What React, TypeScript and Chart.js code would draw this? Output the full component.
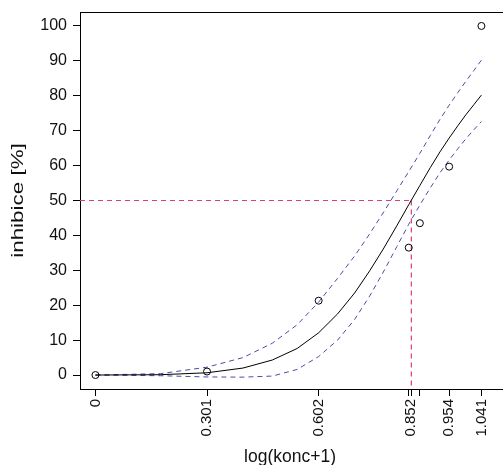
import React, { useEffect, useRef } from "react";
import { Chart, registerables } from "chart.js";

Chart.register(...registerables);

// Axis ticks (value positions + labels as printed)
const xTickValues = [0, 0.301, 0.602, 0.845, 0.852, 0.875, 0.954, 1.041];
const xTickLabels = ["0", "0.301", "0.602", "", "0.852", "", "0.954", "1.041"];
const yTickValues = [0, 10, 20, 30, 40, 50, 60, 70, 80, 90, 100];

// Observed points
const obsX = [0, 0.301, 0.602, 0.845, 0.875, 0.954, 1.041];
const obsY = [0, 1.0, 21.3, 36.5, 43.5, 59.7, 100];

// Fitted curve and confidence band
const curveX = [0, 0.176, 0.301, 0.398, 0.477, 0.544, 0.602, 0.653, 0.699, 0.74, 0.778, 0.813, 0.845, 0.875, 0.903, 0.929, 0.954, 0.978, 1.0, 1.021, 1.041];
const fitY = [0, 0.1, 0.65, 2.0, 4.3, 7.6, 12.1, 17.5, 23.5, 29.9, 36.4, 42.8, 48.8, 54.3, 59.4, 63.9, 67.9, 71.5, 74.7, 77.5, 80.2];
const upperY = [0, 0.4, 2.25, 5.0, 9.1, 14.4, 20.9, 27.7, 34.1, 40.5, 46.8, 52.8, 58.3, 63.5, 68.6, 73.2, 77.3, 81.0, 84.3, 87.3, 90.2];
const lowerY = [0, -0.2, -0.55, -0.6, -0.3, 1.6, 5.3, 10.0, 15.9, 22.7, 29.8, 36.8, 43.2, 48.7, 53.6, 57.9, 61.6, 64.9, 67.8, 70.3, 72.6];

// IC50 marker
const ic50X = 0.852;
const ic50Y = 50;

// Axis ranges
const xMin = -0.0416;
const xMax = 1.0992;
const yMin = -4;
const yMax = 104;

const xTitle = "log(konc+1)";
const yTitle = "inhibice [%]";

const FONT = "'Liberation Sans', Arial, sans-serif";

const pts = (xs: number[], ys: number[]) => xs.map((x, i) => ({ x, y: ys[i] }));

const framePlugin = {
  id: "frameTop",
  afterDraw(chart: any) {
    const { ctx, chartArea } = chart;
    ctx.save();
    ctx.strokeStyle = "#000";
    ctx.lineWidth = 1;
    ctx.beginPath();
    ctx.moveTo(chartArea.left, Math.round(chartArea.top) + 0.5);
    ctx.lineTo(chartArea.right + 2, Math.round(chartArea.top) + 0.5);
    ctx.stroke();

    // axis titles
    ctx.fillStyle = "#111";
    ctx.textAlign = "center";
    ctx.textBaseline = "middle";
    ctx.font = `17.5px ${FONT}`;
    ctx.fillText(xTitle, 290, 457);

    ctx.save();
    ctx.translate(19, (chartArea.top + chartArea.bottom) / 2);
    ctx.rotate(-Math.PI / 2);
    ctx.scale(1.4, 1);
    ctx.font = `16px ${FONT}`;
    ctx.fillText(yTitle, 0, 0);
    ctx.restore();
    ctx.restore();
  },
};

export default function App() {
  const ref = useRef<HTMLCanvasElement>(null);

  useEffect(() => {
    if (!ref.current) return;
    const chart = new Chart(ref.current, {
      type: "scatter",
      data: {
        datasets: [
          {
            data: pts(obsX, obsY),
            showLine: false,
            pointRadius: 3.5,
            pointBorderWidth: 1,
            pointBorderColor: "#000",
            pointBackgroundColor: "rgba(0,0,0,0)",
          },
          {
            data: pts(curveX, fitY),
            showLine: true,
            borderColor: "#000",
            borderWidth: 1,
            pointRadius: 0,
            tension: 0,
          },
          {
            data: pts(curveX, upperY),
            showLine: true,
            borderColor: "#4b4baa",
            borderWidth: 1,
            borderDash: [5, 4],
            pointRadius: 0,
          },
          {
            data: pts(curveX, lowerY),
            showLine: true,
            borderColor: "#4b4baa",
            borderWidth: 1,
            borderDash: [5, 4],
            pointRadius: 0,
          },
          {
            data: [
              { x: xMin, y: ic50Y },
              { x: ic50X, y: ic50Y },
            ],
            showLine: true,
            borderColor: "#dc3f6c",
            borderWidth: 1,
            borderDash: [5, 4],
            pointRadius: 0,
          },
          {
            data: [
              { x: ic50X, y: ic50Y },
              { x: ic50X, y: yMin },
            ],
            showLine: true,
            borderColor: "#dc3f6c",
            borderWidth: 1.2,
            borderDash: [5, 4],
            pointRadius: 0,
          },
        ],
      },
      options: {
        responsive: false,
        animation: false,
        layout: { padding: { top: 12, right: 0, left: 0, bottom: 0 } },
        plugins: { legend: { display: false }, tooltip: { enabled: false } },
        scales: {
          x: {
            type: "linear",
            min: xMin,
            max: xMax,
            afterBuildTicks: (s: any) => {
              s.ticks = xTickValues.map((v) => ({ value: v }));
            },
            afterFit: (s: any) => {
              s.height = 76;
              s.paddingLeft = 0;
              s.paddingRight = 0;
            },
            ticks: {
              autoSkip: false,
              minRotation: 90,
              maxRotation: 90,
              padding: 3,
              color: "#111",
              font: { family: FONT, size: 15 },
              callback: (_v: any, i: number) => xTickLabels[i],
            },
            grid: { drawOnChartArea: false, drawTicks: true, tickLength: 7, color: "#000", lineWidth: 1 },
            border: { display: true, color: "#000", width: 1 },
            title: { display: false },
          },
          y: {
            type: "linear",
            min: yMin,
            max: yMax,
            afterBuildTicks: (s: any) => {
              s.ticks = yTickValues.map((v) => ({ value: v }));
            },
            afterFit: (s: any) => {
              s.width = 80;
              s.paddingTop = 0;
              s.paddingBottom = 0;
            },
            ticks: {
              padding: 6,
              color: "#111",
              font: { family: FONT, size: 16 },
              callback: (v: any) => String(v),
            },
            grid: { drawOnChartArea: false, drawTicks: true, tickLength: 7, color: "#000", lineWidth: 1 },
            border: { display: true, color: "#000", width: 1 },
            title: { display: false },
          },
        },
      },
      plugins: [framePlugin],
    });
    return () => chart.destroy();
  }, []);

  return (
    <div style={{ position: "fixed", left: 0, top: 0, width: 503, height: 465, background: "#fff", overflow: "hidden" }}>
      <canvas ref={ref} width={508} height={465} style={{ display: "block" }} />
    </div>
  );
}
